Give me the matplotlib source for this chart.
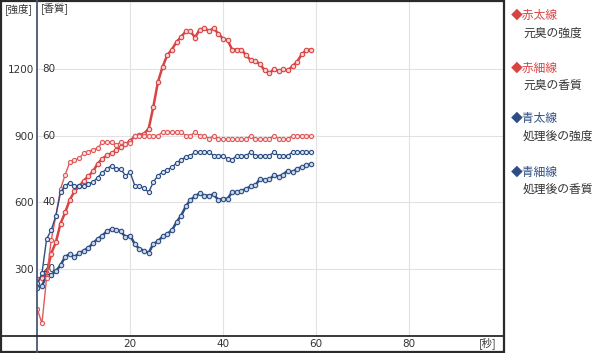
import matplotlib
matplotlib.use("Agg")
import matplotlib.pyplot as plt
from matplotlib.lines import Line2D
from matplotlib.patches import Rectangle

plt.rcParams['font.family'] = ['Noto Sans CJK JP', 'DejaVu Sans']

# time axis [sec]
seconds = list(range(60))

# 強度 (left axis)
red_thick = [256, 258, 280, 370, 421, 505, 555, 612, 650, 672,
             698, 718, 740, 775, 797, 812, 822, 835, 850, 862,
             878, 898, 902, 910, 932, 1030, 1143, 1211, 1263, 1289,
             1323, 1346, 1371, 1371, 1343, 1379, 1384, 1373, 1384, 1361,
             1338, 1331, 1289, 1289, 1289, 1263, 1241, 1237, 1223, 1195,
             1183, 1199, 1193, 1199, 1195, 1214, 1234, 1268, 1286, 1289]
blue_thick = [215, 226, 268, 275, 290, 318, 355, 368, 355, 371,
              383, 396, 416, 436, 451, 470, 480, 478, 470, 445,
              451, 413, 391, 383, 373, 413, 425, 447, 459, 474,
              511, 541, 582, 612, 627, 642, 631, 631, 636, 612,
              617, 617, 647, 647, 652, 662, 672, 677, 707, 700,
              704, 722, 717, 726, 744, 737, 752, 759, 767, 774]

# 香質 (second scale, 80 <-> 1200)
red_thin = [8.0, 3.7, 17.3, 28.7, 36.0, 44.0, 48.3, 52.1, 52.7, 53.3,
            54.8, 55.3, 55.9, 56.3, 58.1, 58.1, 58.1, 57.3, 58.1, 57.7,
            57.9, 60.1, 60.1, 60.1, 60.1, 60.1, 60.1, 61.1, 61.1, 61.1,
            61.1, 61.1, 60.1, 60.1, 61.1, 60.1, 60.1, 59.1, 60.1, 59.1,
            59.1, 59.1, 59.1, 59.1, 59.1, 59.1, 60.1, 59.1, 59.1, 59.1,
            59.1, 60.1, 59.1, 59.1, 59.1, 60.1, 60.1, 60.1, 60.1, 60.1]
blue_thin = [15.7, 18.7, 29.0, 31.7, 36.0, 43.0, 45.0, 46.0, 45.1, 44.8,
             45.1, 45.6, 46.1, 47.5, 49.0, 50.1, 51.1, 50.1, 50.1, 48.0,
             49.1, 45.1, 44.9, 44.3, 43.1, 46.1, 48.1, 49.1, 49.8, 50.6,
             51.8, 52.9, 53.6, 54.1, 55.1, 55.1, 55.1, 55.1, 54.1, 54.1,
             54.1, 53.1, 52.9, 54.1, 54.1, 54.1, 55.1, 54.1, 54.1, 54.1,
             54.1, 55.1, 54.1, 54.1, 54.1, 55.1, 55.1, 55.1, 55.1, 55.1]

x_ticks = [20, 40, 60, 80]
y_ticks = [300, 600, 900, 1200]
y2_ticks = [20, 40, 60, 80]

legend_names = ['赤太線', '赤細線', '青太線', '青細線']
legend_desc = ['元臭の強度', '元臭の香質', '処理後の強度', '処理後の香質']

RED = '#d94343'
RED_THIN = '#e05a5a'
BLUE = '#2d4e84'
TXT = '#333333'
NUM_FONT = ['Liberation Sans Narrow', 'DejaVu Sans']

W, H = 600, 353
fig = plt.figure(figsize=(6, 3.53), dpi=100)

# plot area in pixels
x0, x1 = 37.3, 503.0
y0, y1 = 335.7, 1.0
ax = fig.add_axes([x0 / W, (H - y0) / H, (x1 - x0) / W, (y0 - y1) / H])
ax.set_xlim(0, (x1 - x0) / 4.64)
ax.set_ylim(0, (y0 - y1) * 4.504)
ax.patch.set_alpha(0)
for s in ax.spines.values():
    s.set_visible(False)

# 香質 scale shares the x axis, 15 intensity units per point
ax2 = ax.twinx()
ax2.set_ylim(0, ax.get_ylim()[1] / 15)
ax2.axis('off')

ax.set_xticks(x_ticks)
ax.set_yticks(y_ticks)
ax.tick_params(length=0, labelsize=7.5, labelcolor=TXT, pad=2.5)
ax.set_yticklabels([str(v) for v in y_ticks], family=NUM_FONT)
ax.set_xticklabels([str(v) for v in x_ticks], family=NUM_FONT)
ax.grid(True, color='#e2e2e2', lw=0.8)
ax.set_axisbelow(True)

# second scale labels sit just right of the axis line
for v in y2_ticks:
    ax2.text(1.0, v, str(v), fontsize=7.5, color=TXT, va='center', ha='left',
             family=NUM_FONT)

# series
ax.plot(seconds, red_thick, color=RED, lw=1.8, marker='o', ms=3.2,
        mfc='#f7d4d4', mec=RED, mew=0.8, zorder=4)
ax2.plot(seconds, red_thin, color=RED_THIN, lw=1.0, marker='o', ms=3.0,
         mfc='#fbe3e3', mec=RED_THIN, mew=0.8, zorder=3)
ax.plot(seconds, blue_thick, color=BLUE, lw=1.8, marker='o', ms=3.2,
        mfc='#c9d5e8', mec=BLUE, mew=0.8, zorder=4)
ax2.plot(seconds, blue_thin, color=BLUE, lw=1.0, marker='o', ms=3.0,
         mfc='#dde5f1', mec=BLUE, mew=0.8, zorder=3)

# axis lines across the whole frame
fig.add_artist(Line2D([x0 / W, x0 / W], [0, 1], color='#4b5670', lw=1.3))
fig.add_artist(Line2D([0, x1 / W], [(H - y0) / H, (H - y0) / H], color='#2a2a2a', lw=1.3))
fig.add_artist(Rectangle((0.5 / W, 1.0 / H), 503 / W, 351 / H, fill=False,
                         edgecolor='#2a2a2a', lw=1.6, transform=fig.transFigure))

# axis titles
fig.text(5 / W, 1 - 9 / H, '[強度]', fontsize=7.5, color=TXT, va='center', ha='left')
fig.text(41 / W, 1 - 9 / H, '[香質]', fontsize=7.5, color=TXT, va='center', ha='left')
fig.text(497 / W, 1 - 343 / H, '[秒]', fontsize=7.5, color=TXT, va='center', ha='right')

# legend
colors = [RED, RED, BLUE, BLUE]
tops = [15, 68, 118, 172]
for name, desc, c, yy in zip(legend_names, legend_desc, colors, tops):
    fig.text(511 / W, 1 - yy / H, '◆' + name, fontsize=8.5, color=c, va='center', ha='left')
    fig.text(523 / W, 1 - (yy + 18) / H, desc, fontsize=8.5, color=TXT, va='center', ha='left')

fig.savefig('out.png', dpi=100)
